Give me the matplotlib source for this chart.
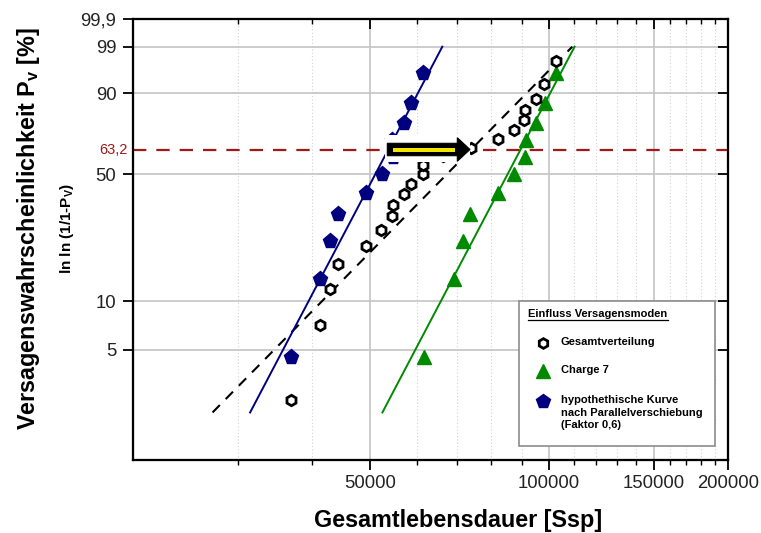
import numpy as np
import matplotlib
matplotlib.use("Agg")
import matplotlib.pyplot as plt
from matplotlib.patches import Polygon, Rectangle
from matplotlib.lines import Line2D
from matplotlib.ticker import FixedLocator, NullFormatter

plt.rcParams['font.family'] = ['Liberation Sans', 'DejaVu Sans']
plt.rcParams['mathtext.fontset'] = 'custom'
plt.rcParams['mathtext.rm'] = 'Liberation Sans'
plt.rcParams['mathtext.bf'] = 'Liberation Sans:bold'
plt.rcParams['mathtext.it'] = 'Liberation Sans:italic'

# Gesamtverteilung: Lebensdauer [Ssp] und Ausfallwahrscheinlichkeit [%]
gesamt_ssp = [36800, 41300, 42800, 44200, 49200, 52300, 54500, 54700, 57000,
              58700, 61400, 61400, 66500, 74100, 82100, 87400, 90900, 91100,
              95200, 98000, 102600]
gesamt_pv = [2.4, 7.1, 11.9, 16.7, 21.4, 26.2, 31.0, 35.7, 40.5, 45.2, 50.0,
             54.8, 59.5, 64.3, 69.0, 73.8, 78.6, 83.3, 88.1, 92.9, 97.6]

# Charge 7
charge7_ssp = [61650, 69200, 71700, 73800, 82100, 87300, 91100, 91400, 95000,
               98400, 102600]
charge7_pv = [4.5, 13.6, 22.7, 31.8, 40.9, 50.0, 59.1, 68.2, 77.3, 86.4, 95.5]

# hypothetische Kurve nach Parallelverschiebung (Faktor 0,6)
hypo_ssp = [36900, 41300, 42900, 44200, 49200, 52400, 54700, 54500, 57000,
            58700, 61400]
hypo_pv = [4.5, 13.6, 22.7, 31.8, 40.9, 50.0, 59.1, 68.2, 77.3, 86.4, 95.5]

# Weibull-Ausgleichsgeraden: charakteristische Lebensdauer T und Formparameter b
gesamt_T, gesamt_b = 74000, 3.9
charge7_T, charge7_b = 89600, 7.3
hypo_T, hypo_b = 53700, 7.3
fit_pv_range = [2.0, 99.0]

p_char = 63.2
x_ticks = [50000, 100000, 150000, 200000]
x_ticklabels = ['50000', '100000', '150000', '200000']
x_minor = [30000, 40000, 60000, 70000, 80000, 90000, 110000, 120000, 130000,
           140000, 160000, 170000, 180000, 190000]
y_ticks = [5, 10, 50, 90, 99, 99.9]
y_ticklabels = ['5', '10', '50', '90', '99', '99,9']

NAVY = '#00007f'
GREEN = '#008a00'
DARKRED = '#a01818'
GRID = '#c4c4c4'


def weibull_fwd(p):
    p = np.clip(np.asarray(p, dtype=float), 1e-9, 100 - 1e-9)
    return np.log(-np.log(1 - p / 100.0))


def weibull_inv(w):
    return 100.0 * (1 - np.exp(-np.exp(np.asarray(w, dtype=float))))


def weibull_line(T, b):
    p = np.array(fit_pv_range)
    return T * np.exp(weibull_fwd(p) / b), p


W, H = 761, 533
fig = plt.figure(figsize=(W / 100, H / 100), dpi=100)
L, R, TOP, BOT = 133, 728, 19.4, 459.5
ax = fig.add_axes([L / W, 1 - BOT / H, (R - L) / W, (BOT - TOP) / H])

ax.set_xscale('log')
ax.set_yscale('function', functions=(weibull_fwd, weibull_inv))
ax.set_xlim(20000, 200000)
ax.set_ylim(1.0, 99.9)

# grid
for xv in x_ticks[:-1]:
    ax.axvline(xv, color=GRID, lw=1.2, zorder=0)
for xv in x_minor:
    ax.axvline(xv, color='#d2d2d2', lw=0.8, ls=(0, (1, 2)), zorder=0)
for yv in y_ticks[:-1]:
    ax.axhline(yv, color=GRID, lw=1.2, zorder=0)

# characteristic life line
ax.axhline(p_char, color=DARKRED, lw=1.6, ls=(0, (6, 4.5)), zorder=1)

# fit lines
xg, pg = weibull_line(gesamt_T, gesamt_b)
ax.plot(xg, pg, color='black', lw=1.5, ls=(0, (5, 4)), zorder=2)
xc, pc = weibull_line(charge7_T, charge7_b)
ax.plot(xc, pc, color=GREEN, lw=1.4, zorder=2)
xh, ph = weibull_line(hypo_T, hypo_b)
ax.plot(xh, ph, color=NAVY, lw=1.4, zorder=2)

# data points
ax.plot(hypo_ssp, hypo_pv, ls='none', marker='p', ms=11, color=NAVY,
        mec=NAVY, zorder=3)
ax.plot(charge7_ssp, charge7_pv, ls='none', marker='^', ms=10, color=GREEN,
        mec=GREEN, zorder=3)
ax.plot(gesamt_ssp, gesamt_pv, ls='none', marker='h', ms=7.5, mfc='white',
        mec='black', mew=2.0, zorder=4)

# axes styling
for s in ax.spines.values():
    s.set_linewidth(1.5)
ax.set_xticks(x_ticks, x_ticklabels)
ax.xaxis.set_minor_locator(FixedLocator(x_minor))
ax.xaxis.set_minor_formatter(NullFormatter())
ax.set_yticks(y_ticks, y_ticklabels)
ax.yaxis.set_minor_locator(FixedLocator([]))
ax.tick_params(axis='both', which='major', direction='out', length=7,
               width=1.3, labelsize=13.3, colors='black', labelcolor='#222222')
ax.tick_params(axis='x', which='major', pad=4)
ax.tick_params(axis='y', which='major', pad=5)
ax.tick_params(axis='x', which='minor', direction='out', length=3.5, width=1.0)

# inward ticks on top and right
axt = ax.twiny()
axt.set_xscale('log')
axt.set_xlim(ax.get_xlim())
axt.set_xticks(x_ticks)
axt.xaxis.set_minor_locator(FixedLocator(x_minor))
axt.xaxis.set_major_formatter(NullFormatter())
axt.xaxis.set_minor_formatter(NullFormatter())
axt.tick_params(axis='x', which='major', direction='in', length=7, width=1.3,
                labeltop=False)
axt.tick_params(axis='x', which='minor', direction='in', length=3.5, width=1.0,
                labeltop=False)
axr = ax.twinx()
axr.set_yscale('function', functions=(weibull_fwd, weibull_inv))
axr.set_ylim(ax.get_ylim())
axr.set_yticks(y_ticks)
axr.yaxis.set_minor_locator(FixedLocator([]))
axr.yaxis.set_major_formatter(NullFormatter())
axr.tick_params(axis='y', which='major', direction='in', length=7, width=1.3,
                labelright=False)
for a in (axt, axr):
    for s in a.spines.values():
        s.set_linewidth(1.5)

# red label for 63,2
fig.text(128 / W, 1 - 149.5 / H, '63,2', color=DARKRED, fontsize=10.5,
         ha='right', va='center')

# axis titles
fig.text(458 / W, 1 - 521 / H, 'Gesamtlebensdauer [Ssp]', fontsize=16.8,
         fontweight='bold', ha='center', va='center')
fig.text(29 / W, 1 - 228 / H, r'Versagenswahrscheinlichkeit P$_{\mathbf{v}}$ [%]',
         fontsize=16.8, fontweight='bold', rotation=90, ha='center', va='center')
fig.text(67 / W, 1 - 228 / H, r'ln ln (1/1-P$_{\mathbf{V}}$)', fontsize=11,
         fontweight='bold', rotation=90, ha='center', va='center')


def fig_xy(px, py):
    return (px / W, 1 - py / H)


# shift arrow with white background
bg = Rectangle(fig_xy(385, 161.7), 85 / W, 26.7 / H, transform=fig.transFigure,
               facecolor='white', edgecolor='none', zorder=5)
fig.add_artist(bg)
arrow_px = [(387.3, 143.3), (457.3, 143.3), (457.3, 137.7), (470, 149.5),
            (457.3, 161.3), (457.3, 155.7), (387.3, 155.7)]
arrow = Polygon([fig_xy(*p) for p in arrow_px], closed=True,
                transform=fig.transFigure, facecolor='black',
                edgecolor='black', lw=0.8, zorder=6)
fig.add_artist(arrow)
stripe = Rectangle(fig_xy(392.7, 151.8), (455 - 392.7) / W, 4.2 / H,
                   transform=fig.transFigure, facecolor='#f2e600',
                   edgecolor='none', zorder=7)
fig.add_artist(stripe)

# legend box
box = Rectangle(fig_xy(519, 445.7), (715 - 519) / W, (445.7 - 300.7) / H,
                transform=fig.transFigure, facecolor='white',
                edgecolor='#8c8c8c', lw=1.2, zorder=8)
fig.add_artist(box)
title = fig.text(*fig_xy(528.3, 314.3), 'Einfluss Versagensmoden', fontsize=8,
                 fontweight='bold', ha='left', va='center', zorder=9)
fig.canvas.draw()
bb = title.get_window_extent()
fig.add_artist(Line2D([bb.x0 / W, bb.x1 / W], [(H - 319.6) / H] * 2,
                      transform=fig.transFigure, color='black', lw=0.9,
                      zorder=9))

legend_items = [
    ('h', dict(ms=7, mfc='white', mec='black', mew=2.0), 342.7,
     'Gesamtverteilung'),
    ('^', dict(ms=10, color=GREEN, mec=GREEN), 371.0, 'Charge 7'),
    ('p', dict(ms=10.5, color=NAVY, mec=NAVY), 401.2,
     'hypothethische Kurve\nnach Parallelverschiebung\n(Faktor 0,6)'),
]
for marker, kw, ypx, label in legend_items:
    fig.add_artist(Line2D([543.3 / W], [(H - ypx) / H], marker=marker,
                          ls='none', transform=fig.transFigure, zorder=9, **kw))
    fig.text(560.7 / W, (H - ypx + 6) / H, label, fontsize=8, fontweight='bold',
             ha='left', va='top', linespacing=1.3, zorder=9)

fig.savefig('out.png', dpi=100, facecolor='white')
